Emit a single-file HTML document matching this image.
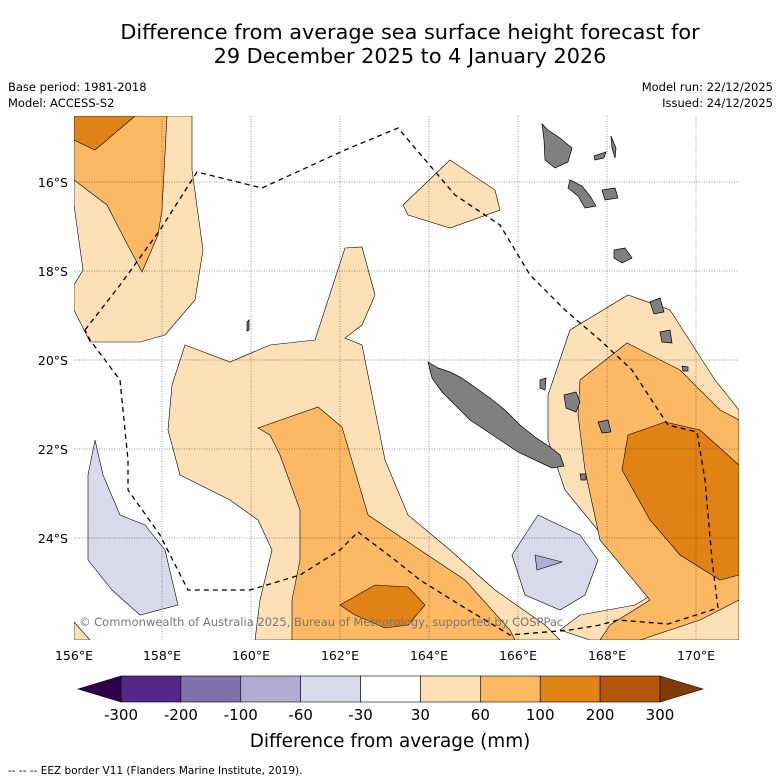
<!DOCTYPE html>
<html><head><meta charset="utf-8"><style>
body{margin:0;background:#fff;width:781px;height:781px;overflow:hidden;font-family:"DejaVu Sans","Liberation Sans",sans-serif}
svg{position:absolute;left:0;top:0;font-family:"DejaVu Sans","Liberation Sans",sans-serif}
</style></head><body>
<svg width="781" height="781" viewBox="0 0 781 781">
<text x="410" y="39" text-anchor="middle" font-size="20.8">Difference from average sea surface height forecast for</text>
<text x="410" y="63" text-anchor="middle" font-size="20.8">29 December 2025 to 4 January 2026</text>
<text x="8" y="91" font-size="11.5">Base period: 1981-2018</text>
<text x="8" y="107" font-size="11.5">Model: ACCESS-S2</text>
<text x="773" y="91" font-size="11.5" text-anchor="end">Model run: 22/12/2025</text>
<text x="773" y="107" font-size="11.5" text-anchor="end">Issued: 24/12/2025</text>
<defs><clipPath id="mc"><rect x="74" y="116" width="665" height="524"/></clipPath></defs>
<g clip-path="url(#mc)">
<rect x="74" y="116" width="665" height="524" fill="#fff"/>
<g stroke="#000" stroke-width="0.6">
<polygon fill="#fee0b6" points="74,116 192,116 192,170 203,250 195,300 165,335 140,342 90,342 74,310 74,285 83,270 74,205"/>
<polygon fill="#fdb863" points="74,116 167,116 162,210 158,235 142,272 125,240 107,205 74,180"/>
<polygon fill="#e08214" points="74,116 135,116 95,150 74,140"/>
<polygon fill="#fee0b6" points="185,345 230,362 270,345 315,340 345,248 362,247 375,295 362,325 345,338 362,345 375,410 385,460 408,515 450,550 495,590 545,625 560,640 255,640 260,600 272,550 258,520 230,500 180,475 168,430 172,385"/>
<polygon fill="#fdb863" points="258,428 318,407 342,427 368,515 420,550 465,580 510,630 515,640 292,640 292,600 300,560 300,510 280,455 270,435"/>
<polygon fill="#e08214" points="340,605 375,585 408,587 425,605 408,625 385,628 355,615"/>
<polygon fill="#fee0b6" points="403,205 450,160 495,190 500,210 450,228 408,215"/>
<polygon fill="#fee0b6" points="548,395 570,330 628,295 670,310 715,380 739,410 739,640 590,640 560,630 580,615 635,605 660,590 610,545 565,490 548,440"/>
<polygon fill="#fdb863" points="580,380 627,343 680,370 720,410 739,420 739,600 700,620 640,640 600,640 610,625 650,600 600,540 585,470 578,415"/>
<polygon fill="#e08214" points="628,435 665,422 700,430 739,465 739,575 720,580 680,555 650,520 622,470"/>
<polygon fill="#d8daeb" points="95,440 103,475 120,515 145,525 165,550 178,605 140,615 112,590 88,560 88,475"/>
<polygon fill="#d8daeb" points="512,555 538,515 580,535 598,560 585,595 560,610 525,595"/>
<polygon fill="#b2abd2" points="535,555 562,562 537,570"/>
<polygon fill="#fee0b6" points="74,622 90,640 74,640"/>
</g>
<g stroke="#333" stroke-width="0.5" stroke-dasharray="1,1.5">
<line x1="162" y1="116" x2="162" y2="640"/><line x1="251" y1="116" x2="251" y2="640"/><line x1="340" y1="116" x2="340" y2="640"/><line x1="429" y1="116" x2="429" y2="640"/><line x1="518" y1="116" x2="518" y2="640"/><line x1="607" y1="116" x2="607" y2="640"/><line x1="696" y1="116" x2="696" y2="640"/>
<line x1="74" y1="182" x2="739" y2="182"/><line x1="74" y1="271" x2="739" y2="271"/><line x1="74" y1="360" x2="739" y2="360"/><line x1="74" y1="449" x2="739" y2="449"/><line x1="74" y1="538" x2="739" y2="538"/>
</g>
<g fill="#808080" stroke="#000" stroke-width="0.7">
<polygon points="428,362 438,368 450,372 462,378 476,388 490,398 505,410 520,425 535,437 550,447 560,455 564,466 552,468 535,460 518,452 500,440 485,430 470,420 455,405 442,392 432,378"/>
<polygon points="542,124 548,130 560,138 572,148 568,162 555,168 545,160 544,140"/>
<polygon points="570,180 582,186 590,196 596,206 585,208 578,196 568,188"/>
<polygon points="602,190 615,188 618,198 605,200"/>
<polygon points="614,250 625,248 632,258 622,263 614,258"/>
<polygon points="611,136 616,148 615,158 612,148"/>
<polygon points="594,156 606,152 604,158 595,160"/>
<polygon points="564,395 576,392 580,402 576,412 566,408"/>
<polygon points="598,422 608,420 611,432 602,433"/>
<polygon points="650,302 660,298 664,312 654,314"/>
<polygon points="660,332 670,330 672,343 662,342"/>
<polygon points="580,474 586,474 586,480 581,480"/>
<polygon points="247,322 249,320 249,330 247,331"/>
<polygon points="540,380 546,378 545,390 540,388"/>
<polygon points="682,366 688,367 688,371 683,371"/>
</g>
<polyline fill="none" stroke="#000" stroke-width="1.3" stroke-dasharray="5,4" points="85,330 120,285 160,230 197,172 262,188 345,150 398,128 455,195 500,225 530,275 565,310 600,340 632,370 668,425 697,432 705,480 712,560 718,608 668,624 618,620 600,625 570,630 510,635 460,605 420,580 395,560 358,532 340,550 300,575 250,590 188,590 160,535 128,490 128,460 120,380 90,340 85,330"/>
<text x="79" y="626" font-size="11.5" fill="#777">© Commonwealth of Australia 2025, Bureau of Meteorology, supported by COSPPac</text>
</g>
<g font-size="12.5">
<text x="68" y="187" text-anchor="end">16°S</text><text x="68" y="276" text-anchor="end">18°S</text><text x="68" y="365" text-anchor="end">20°S</text><text x="68" y="454" text-anchor="end">22°S</text><text x="68" y="543" text-anchor="end">24°S</text>
</g>
<g font-size="12.5" text-anchor="middle">
<text x="74" y="660">156°E</text><text x="162" y="660">158°E</text><text x="251" y="660">160°E</text><text x="340" y="660">162°E</text><text x="429" y="660">164°E</text><text x="518" y="660">166°E</text><text x="607" y="660">168°E</text><text x="696" y="660">170°E</text>
</g>
<g id="cbar"></g>
<text x="390" y="747" text-anchor="middle" font-size="18.4">Difference from average (mm)</text>
<text x="8" y="774" font-size="10.5">--  --  -- EEZ border V11 (Flanders Marine Institute, 2019).</text>
</svg>
<script>
const levels=[-300,-200,-100,-60,-30,30,60,100,200,300];
const colors=['#542788','#8073ac','#b2abd2','#d8daeb','#ffffff','#fee0b6','#fdb863','#e08214','#b35806'];
const g=document.getElementById('cbar');
const NS='http://www.w3.org/2000/svg';
const x0=121,x1=660,y0=676,h=26,w=(x1-x0)/colors.length;
colors.forEach((c,i)=>{const r=document.createElementNS(NS,'rect');
r.setAttribute('x',x0+i*w);r.setAttribute('y',y0);r.setAttribute('width',w);r.setAttribute('height',h);
r.setAttribute('fill',c);r.setAttribute('stroke','#000');r.setAttribute('stroke-width','0.6');


g.appendChild(r);});
[['78,689 121,676 121,702','#2d004b'],['703,689 660,676 660,702','#7f3b08']].forEach(p=>{const t=document.createElementNS(NS,'polygon');
t.setAttribute('points',p[0]);t.setAttribute('fill',p[1]);t.setAttribute('stroke','#000');t.setAttribute('stroke-width','0.6');


g.appendChild(t);});
levels.forEach((v,i)=>{const t=document.createElementNS(NS,'text');
t.setAttribute('x',x0+i*w);t.setAttribute('y',720);t.setAttribute('text-anchor','middle');t.setAttribute('font-size','15');
t.textContent=v;


g.appendChild(t);});
</script>
</body></html>
